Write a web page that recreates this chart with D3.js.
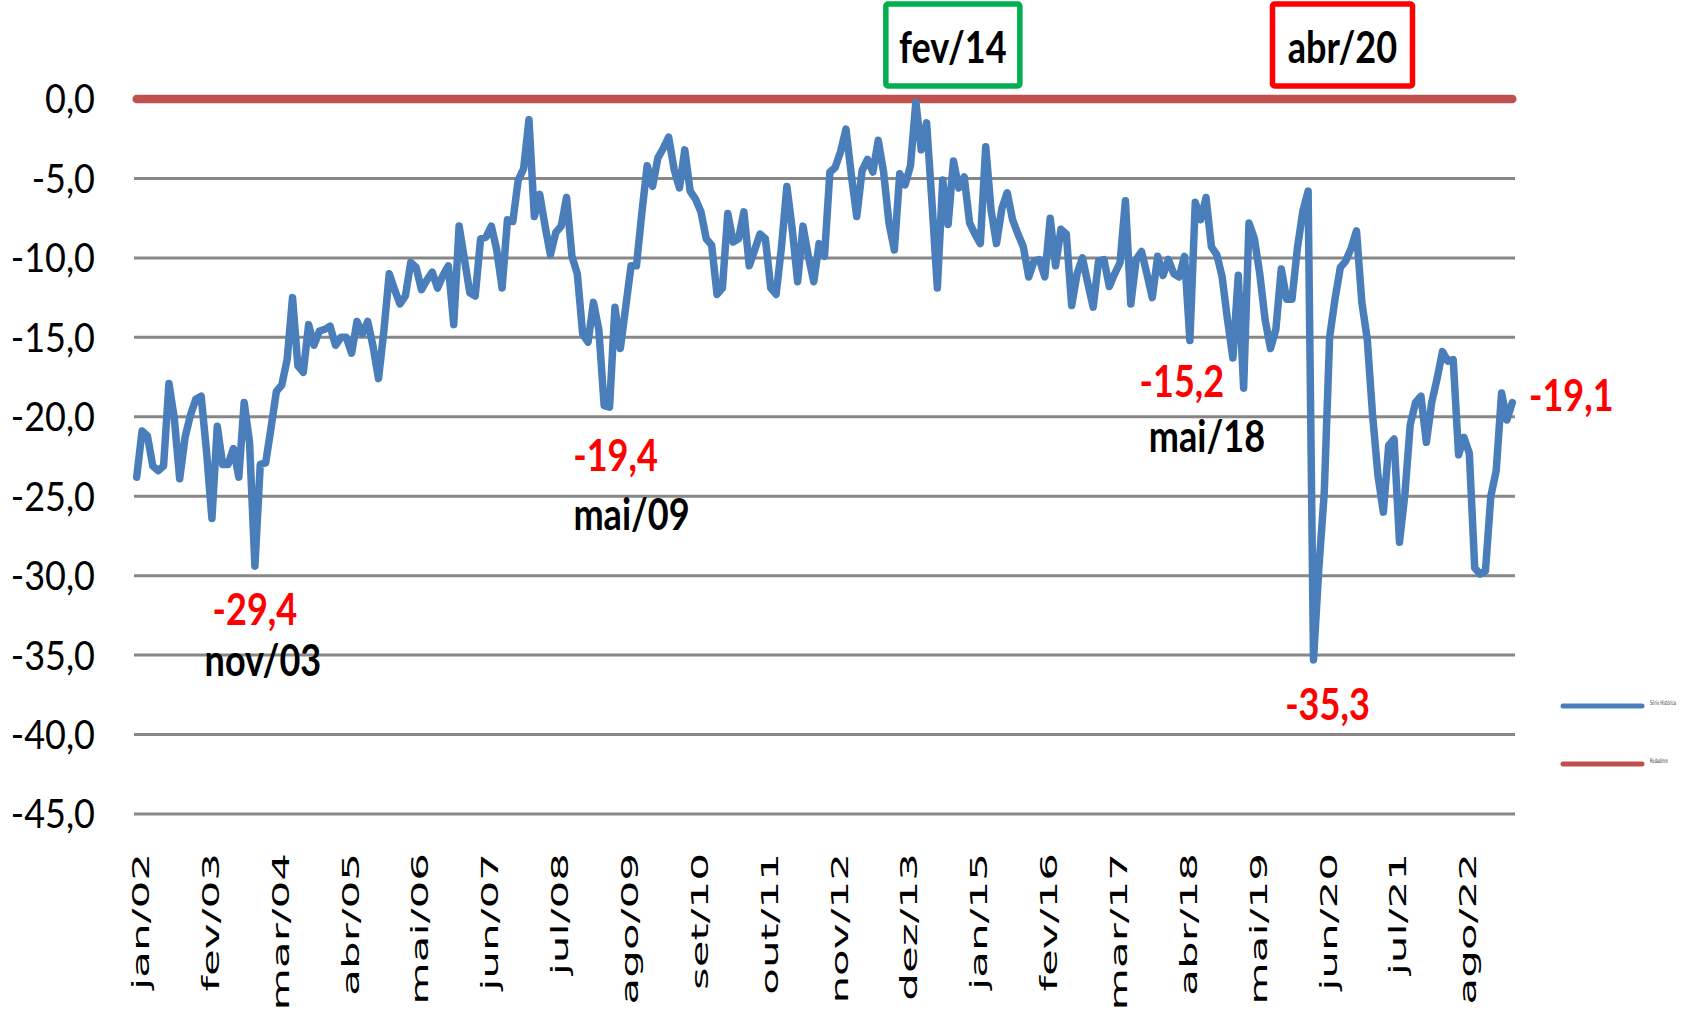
<!DOCTYPE html>
<html>
  <head>
    <meta charset="utf-8">
    <style>
      body { margin: 0; background: #fff; }
      svg { display: block; }
      .ylab { font-family: Lato, "Open Sans", sans-serif; font-size: 40px; fill: #000; }
      .xlab { font-family: "DejaVu Sans", sans-serif; font-size: 23px; fill: #000; }
      .annot { font-family: Lato, sans-serif; font-weight: bold; font-size: 44px; }
      .legend text { font-family: "DejaVu Sans", sans-serif; font-size: 6.5px; fill: #333; }
    </style>
  </head>
  <body>
    <script src="https://d3js.org/d3.v7.min.js"></script>
    <script>
      // months (pt-BR) and years of the series: jan/02 .. mai/23
      var monthNames = ["jan", "fev", "mar", "abr", "mai", "jun", "jul", "ago", "set", "out", "nov", "dez"];
      var firstYear = 2002, nMonths = 257;

      // monthly values
      var serieHistorica = [
        -23.8, -20.9, -21.2, -23.1, -23.4, -23.1, -17.9, -20.1, -23.9, -21.3, -19.9, -18.9,
        -18.7, -22.2, -26.4, -20.6, -23.0, -23.0, -22.0, -23.8, -19.1, -21.6, -29.4, -23.0,
        -22.9, -20.7, -18.4, -18.0, -16.4, -12.5, -16.8, -17.2, -14.2, -15.5, -14.6, -14.5,
        -14.3, -15.5, -15.0, -15.0, -16.0, -14.0, -14.8, -14.0, -15.6, -17.6, -14.6, -11.0,
        -12.0, -12.9, -12.4, -10.3, -10.6, -12.0, -11.4, -10.9, -11.9, -11.1, -10.5, -14.2,
        -8.0, -10.1, -12.2, -12.4, -8.8, -8.7, -8.0, -9.5, -11.9, -7.6, -7.7, -5.1,
        -4.4, -1.3, -7.4, -6.0, -8.0, -9.8, -8.4, -8.0, -6.2, -9.9, -11.0, -14.8,
        -15.3, -12.8, -14.5, -19.3, -19.4, -13.1, -15.7, -13.1, -10.5, -10.5, -7.2, -4.2,
        -5.5, -3.7, -3.1, -2.4, -4.4, -5.6, -3.2, -5.8, -6.3, -7.1, -8.8, -9.2,
        -12.3, -11.9, -7.2, -9.0, -8.8, -7.1, -10.5, -9.5, -8.5, -8.8, -11.9, -12.3,
        -9.3, -5.5, -8.2, -11.5, -8.0, -9.9, -11.5, -9.1, -9.9, -4.6, -4.3, -3.3,
        -1.9, -4.8, -7.4, -4.5, -3.8, -4.6, -2.6, -4.6, -7.8, -9.5, -4.7, -5.4,
        -4.2, -0.2, -3.2, -1.5, -6.5, -11.9, -5.1, -7.9, -3.9, -5.6, -4.9, -7.8,
        -8.5, -9.1, -3.0, -7.0, -9.1, -6.9, -5.9, -7.6, -8.5, -9.3, -11.2, -10.2,
        -10.1, -11.2, -7.5, -10.5, -8.2, -8.5, -13.0, -11.0, -10.0, -11.6, -13.1, -10.2,
        -10.1, -11.8, -11.0, -10.3, -6.4, -12.9, -10.1, -9.6, -11.0, -12.5, -9.9, -11.1,
        -10.1, -11.0, -11.2, -9.9, -15.2, -6.5, -7.6, -6.2, -9.3, -9.8, -11.2, -13.9,
        -16.3, -11.1, -18.2, -7.8, -8.8, -11.0, -13.9, -15.7, -14.5, -10.7, -12.6, -12.6,
        -9.4, -7.1, -5.8, -35.3, -29.5, -24.8, -15.0, -12.6, -10.6, -10.2, -9.4, -8.3,
        -12.8, -15.1, -19.9, -23.7, -26.0, -21.8, -21.4, -27.9, -24.9, -20.5, -19.1, -18.7,
        -21.6, -19.1, -17.6, -15.9, -16.5, -16.4, -22.4, -21.3, -22.3, -29.5, -29.9, -29.7,
        -25.0, -23.4, -18.5, -20.2, -19.1
      ];
      var referencia = 0;   // reference level (red line)

      var yTicks = [0, -5, -10, -15, -20, -25, -30, -35, -40, -45];
      var tickLabels = ["jan/02", "fev/03", "mar/04", "abr/05", "mai/06", "jun/07", "jul/08",
                        "ago/09", "set/10", "out/11", "nov/12", "dez/13", "jan/15", "fev/16",
                        "mar/17", "abr/18", "mai/19", "jun/20", "jul/21", "ago/22"];

      // lows marked on the chart: [value text, category]
      var minLabels = [["-29,4", "nov/03"], ["-19,4", "mai/09"], ["-15,2", "mai/18"]];
      var boxLabels = [["fev/14", "#00B050"], ["abr/20", "#FF0000"]];
      var legendNames = ["Série Histórica", "Rodadinre"];

      var categories = [];
      for (var i = 0; i < nMonths; i++) {
        var yy = (firstYear + Math.floor(i / 12)) % 100;
        categories.push(monthNames[i % 12] + "/" + (yy < 10 ? "0" + yy : yy));
      }
      var data = categories.map(function(c, i) { return {cat: c, value: serieHistorica[i]}; });

      var width = 1683, height = 1014;
      var plot = {left: 134, right: 1515, top: 99, bottom: 814};

      var svg = d3.select("body").append("svg")
          .attr("width", width)
          .attr("height", height);

      var x = d3.scalePoint()
          .domain(categories)
          .range([plot.left, plot.right])
          .padding(0.5);

      var y = d3.scaleLinear()
          .domain([-45, 0])
          .range([plot.bottom, plot.top]);

      var fmt = function(v) { return d3.format(".1f")(v).replace(".", ",").replace("−", "-"); };

      // gridlines
      svg.append("g").selectAll("line")
          .data(yTicks)
        .enter().append("line")
          .attr("x1", plot.left).attr("x2", plot.right)
          .attr("y1", function(d) { return y(d); })
          .attr("y2", function(d) { return y(d); })
          .style("stroke", "#878787")
          .style("stroke-width", 3);

      // y labels
      svg.append("g").selectAll("text")
          .data(yTicks)
        .enter().append("text")
          .attr("class", "ylab")
          .attr("text-anchor", "end")
          .attr("dy", "0.36em")
          .attr("transform", function(d) { return "translate(95," + y(d) + ") scale(0.9,1)"; })
          .text(fmt);

      // x labels, rotated and stretched like the original
      svg.append("g").selectAll("text")
          .data(tickLabels)
        .enter().append("text")
          .attr("class", "xlab")
          .attr("text-anchor", "end")
          .attr("dy", "0.36em")
          .attr("transform", function(d) {
            return "translate(" + (x(d) + 4) + ",853) rotate(-90) scale(1.9,1)";
          })
          .text(function(d) { return d; });

      // reference line
      svg.append("line")
          .attr("x1", x(categories[0])).attr("x2", x(categories[nMonths - 1]))
          .attr("y1", y(referencia)).attr("y2", y(referencia))
          .style("stroke", "#C0504D")
          .style("stroke-width", 8.5)
          .style("stroke-linecap", "round");

      // historical series
      var line = d3.line()
          .x(function(d) { return x(d.cat); })
          .y(function(d) { return y(d.value); });

      svg.append("path")
          .datum(data)
          .attr("d", line)
          .style("fill", "none")
          .style("stroke", "#4A7EBB")
          .style("stroke-width", 7.5)
          .style("stroke-linejoin", "round")
          .style("stroke-linecap", "round");

      // annotations
      function annot(txt, cx, by, color) {
        svg.append("text")
            .attr("class", "annot")
            .attr("text-anchor", "middle")
            .attr("transform", "translate(" + cx + "," + by + ") scale(0.82,1)")
            .style("fill", color)
            .text(txt);
      }
      // offsets from the point: [red dx, red dy, date dx, date dy]
      var offs = {"nov/03": [0, 59, 8, 110], "mai/09": [6, 64, 22, 123], "mai/18": [-8, 56, 17, 111]};
      minLabels.forEach(function(m) {
        var cat = m[1], o = offs[cat];
        var cx = x(cat), cy = y(serieHistorica[categories.indexOf(cat)]);
        annot(m[0], cx + o[0], cy + o[1], "#FF0000");
        annot(cat, cx + o[2], cy + o[3], "#000");
      });
      // -35,3 and the last value
      var iMin = categories.indexOf("abr/20");
      annot(fmt(serieHistorica[iMin]), x("abr/20") + 14, y(serieHistorica[iMin]) + 60, "#FF0000");
      annot(fmt(serieHistorica[nMonths - 1]), x(categories[nMonths - 1]) + 59, y(serieHistorica[nMonths - 1]) + 9, "#FF0000");

      // boxed dates at the top
      boxLabels.forEach(function(b, k) {
        var cx = k === 0 ? x("fev/14") + 37 : x("abr/20") + 29;
        var w = k === 0 ? 134 : 140;
        svg.append("rect")
            .attr("x", cx - w / 2).attr("y", 4)
            .attr("width", w).attr("height", 82)
            .attr("rx", 2)
            .style("fill", "#fff")
            .style("stroke", b[1])
            .style("stroke-width", 5.5);
        annot(b[0], cx, 63, "#000");
      });

      // legend (tiny, as in the original)
      var legend = svg.append("g").attr("class", "legend");
      [["#4A7EBB", 706], ["#C0504D", 764]].forEach(function(l, k) {
        legend.append("line")
            .attr("x1", 1563).attr("x2", 1642)
            .attr("y1", l[1]).attr("y2", l[1])
            .style("stroke", l[0]).style("stroke-width", 5).style("stroke-linecap", "round");
        legend.append("text")
            .attr("transform", "translate(1650," + (l[1] - 1) + ") scale(0.55,1)")
            .text(legendNames[k]);
      });
    </script>
  </body>
</html>
